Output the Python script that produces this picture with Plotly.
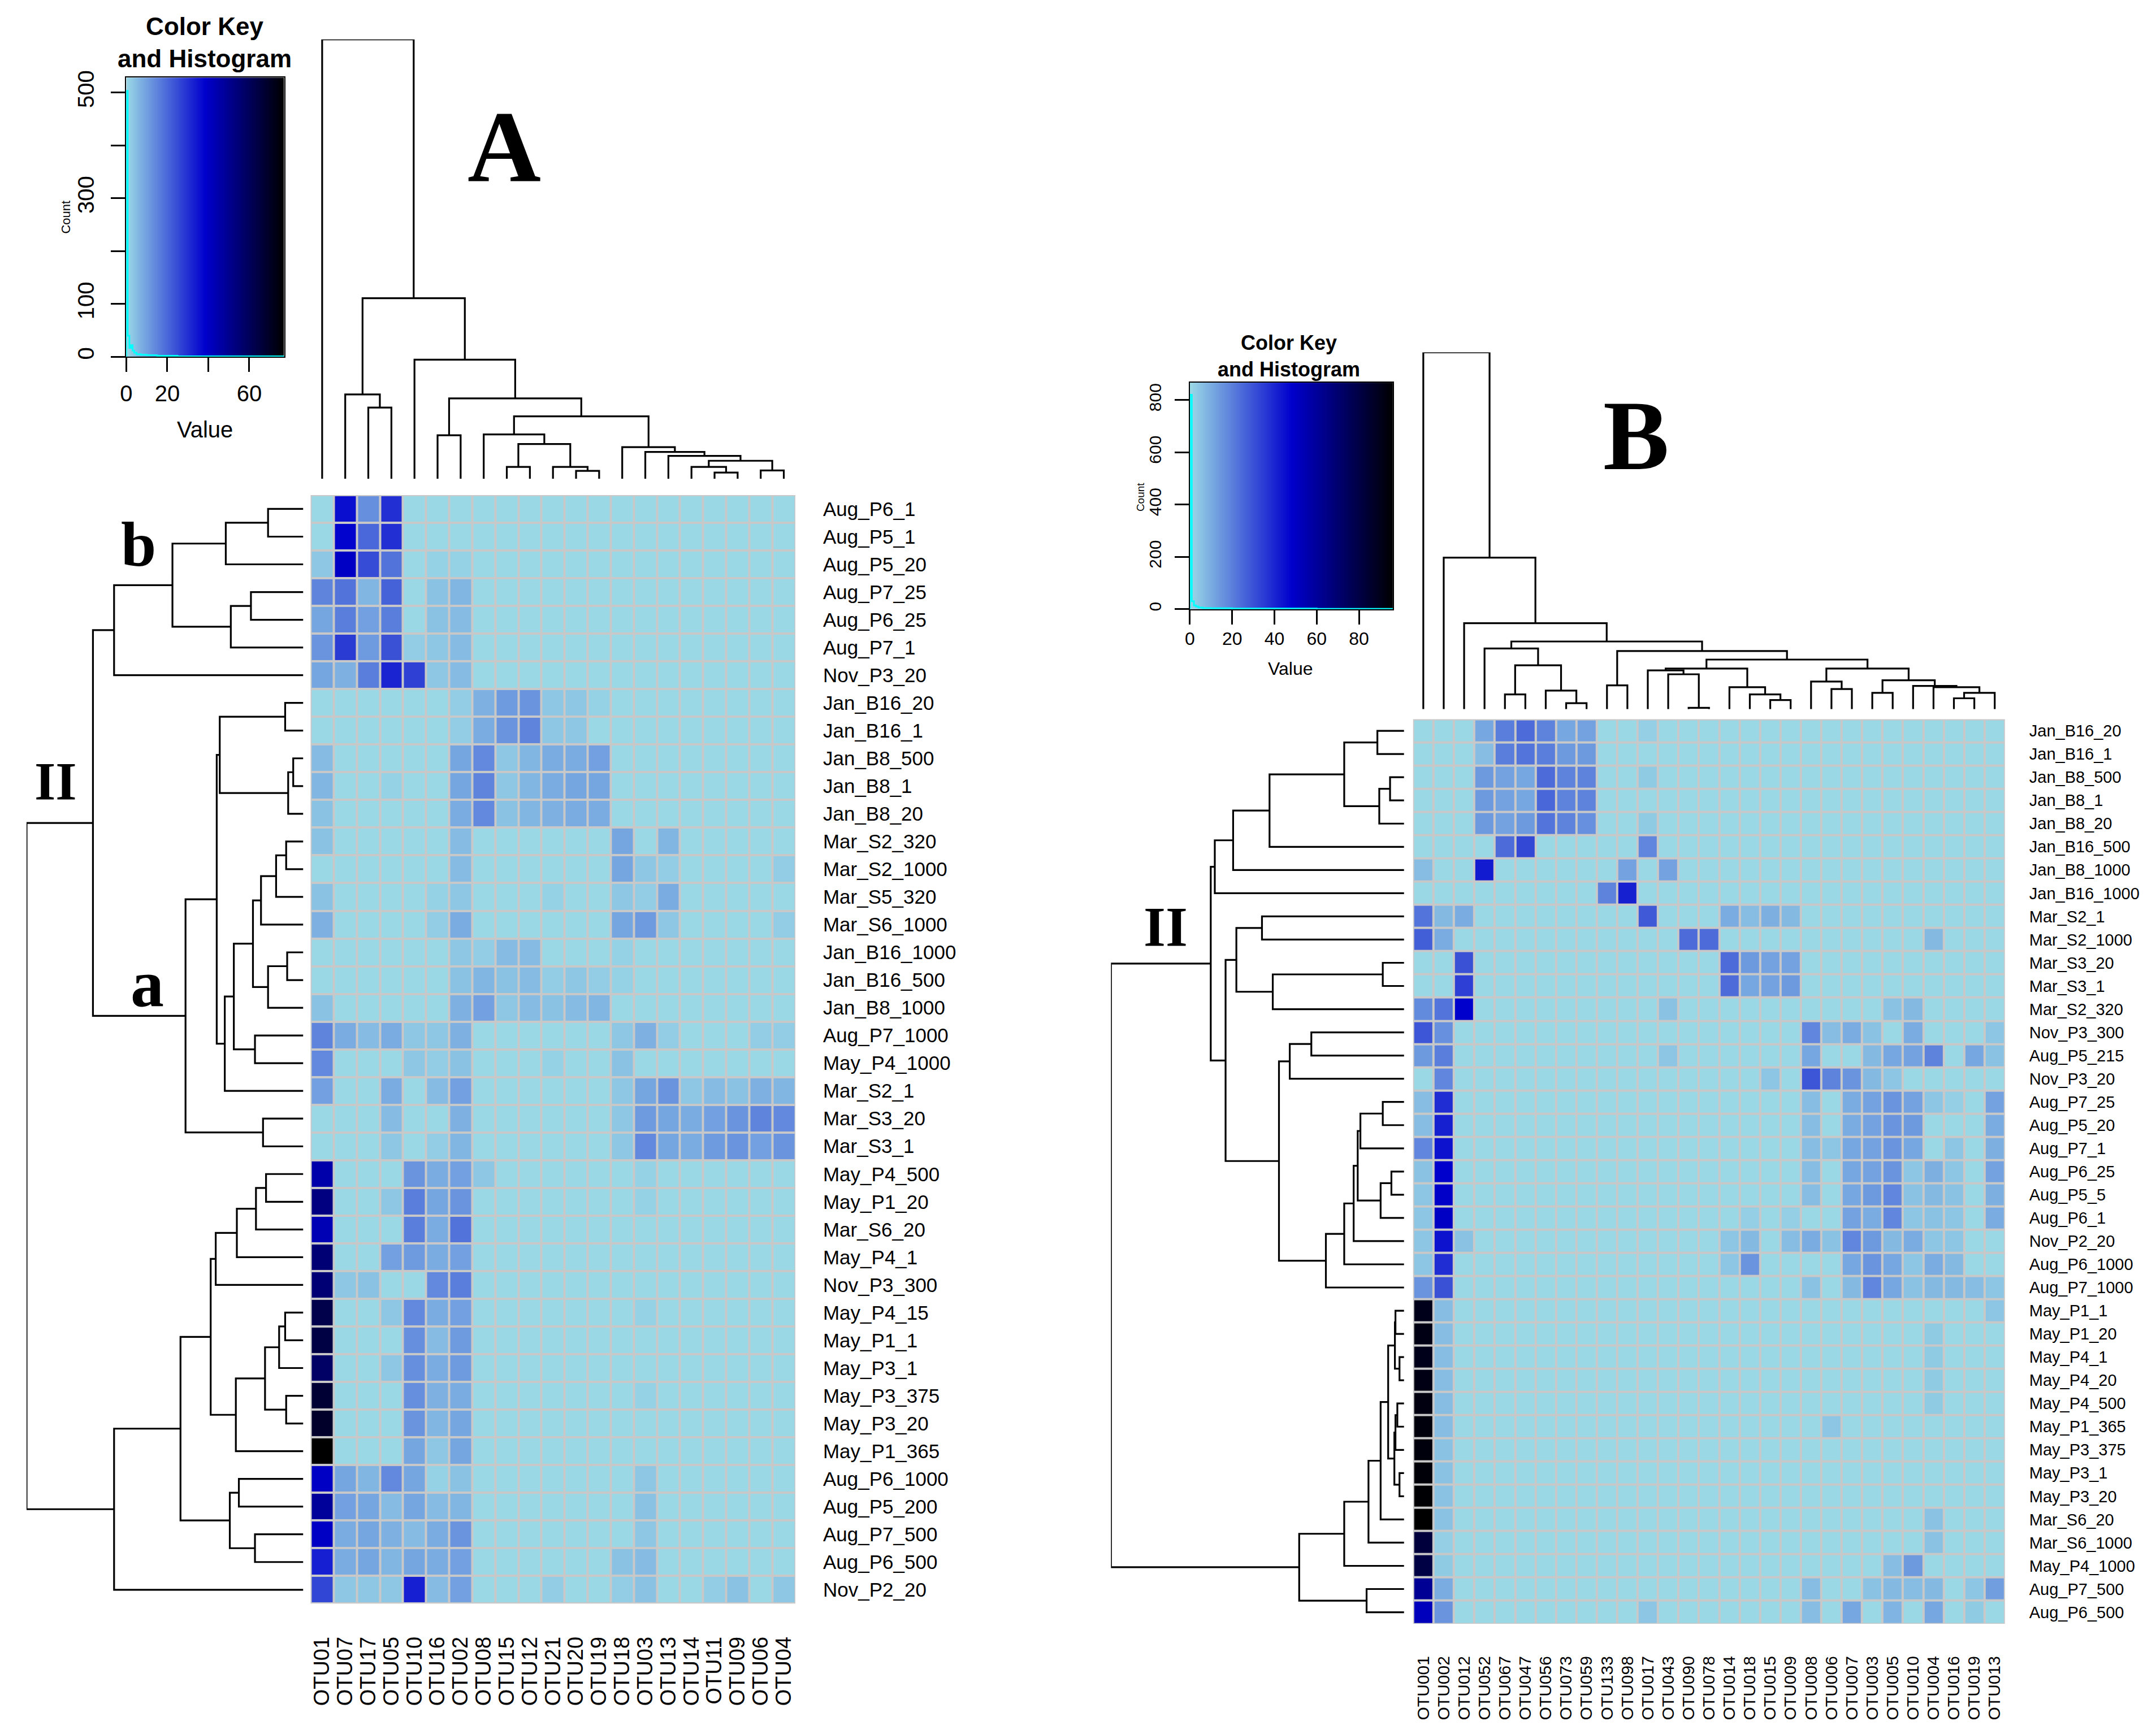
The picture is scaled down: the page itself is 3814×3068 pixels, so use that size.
import plotly.graph_objects as go

# page is 3814 x 3068; the html body keeps its 8 px margin, so the figure is a bit smaller
PAGE_W, PAGE_H, OFF = 3814, 3068, 8
W, H = PAGE_W - 2 * OFF, PAGE_H - 2 * OFF
SANS = "Liberation Sans, Arial, sans-serif"
SERIF = "Liberation Serif, Times New Roman, serif"

# ---------------- panel A data ----------------
A_cols = ["OTU01", "OTU07", "OTU17", "OTU05", "OTU10", "OTU16", "OTU02", "OTU08", "OTU15", "OTU12", "OTU21",
          "OTU20", "OTU19", "OTU18", "OTU03", "OTU13", "OTU14", "OTU11", "OTU09", "OTU06", "OTU04"]
A_rows = ["Aug_P6_1", "Aug_P5_1", "Aug_P5_20", "Aug_P7_25", "Aug_P6_25", "Aug_P7_1", "Nov_P3_20", "Jan_B16_20",
          "Jan_B16_1", "Jan_B8_500", "Jan_B8_1", "Jan_B8_20", "Mar_S2_320", "Mar_S2_1000", "Mar_S5_320",
          "Mar_S6_1000", "Jan_B16_1000", "Jan_B16_500", "Jan_B8_1000", "Aug_P7_1000", "May_P4_1000", "Mar_S2_1",
          "Mar_S3_20", "Mar_S3_1", "May_P4_500", "May_P1_20", "Mar_S6_20", "May_P4_1", "Nov_P3_300", "May_P4_15",
          "May_P1_1", "May_P3_1", "May_P3_375", "May_P3_20", "May_P1_365", "Aug_P6_1000", "Aug_P5_200",
          "Aug_P7_500", "Aug_P6_500", "Nov_P2_20"]
A_values = [
    [0, 36, 13, 30, 0, 0, 0, 0, 0, 0, 0, 0, 0, 0, 0, 0, 0, 0, 0, 0, 0],
    [0, 38, 20, 30, 0, 0, 0, 0, 0, 0, 0, 0, 0, 0, 0, 0, 0, 0, 0, 0, 0],
    [3, 40, 25, 18, 0, 1, 1, 0, 0, 0, 0, 0, 0, 0, 0, 0, 0, 0, 0, 0, 0],
    [15, 18, 6, 21, 0, 4, 6, 0, 0, 0, 0, 0, 0, 0, 0, 0, 0, 0, 0, 0, 0],
    [9, 16, 10, 16, 0, 4, 5, 0, 0, 0, 0, 0, 0, 0, 0, 0, 0, 0, 0, 0, 0],
    [12, 28, 11, 24, 2, 3, 5, 0, 0, 0, 0, 0, 0, 0, 0, 0, 0, 0, 0, 0, 0],
    [9, 7, 16, 32, 27, 3, 5, 0, 0, 0, 0, 0, 0, 0, 0, 0, 0, 0, 0, 0, 0],
    [0, 0, 0, 0, 0, 0, 2, 7, 11, 12, 3, 3, 1, 0, 0, 0, 0, 0, 0, 0, 0],
    [0, 0, 0, 0, 0, 0, 2, 8, 12, 15, 3, 3, 0, 0, 0, 0, 0, 0, 0, 0, 0],
    [5, 0, 0, 0, 0, 0, 9, 14, 3, 6, 8, 8, 10, 0, 0, 0, 0, 0, 0, 0, 0],
    [6, 0, 0, 1, 0, 0, 9, 15, 3, 6, 8, 9, 9, 0, 0, 0, 0, 0, 0, 0, 0],
    [4, 0, 0, 0, 0, 0, 8, 14, 4, 6, 7, 8, 8, 0, 0, 0, 0, 0, 0, 0, 0],
    [4, 0, 0, 0, 0, 0, 5, 0, 0, 0, 0, 0, 0, 9, 0, 6, 0, 0, 0, 0, 0],
    [0, 0, 0, 0, 0, 0, 5, 0, 0, 0, 0, 0, 0, 9, 3, 2, 0, 0, 0, 0, 2],
    [4, 0, 0, 0, 0, 1, 3, 0, 0, 0, 1, 0, 0, 3, 2, 8, 0, 0, 0, 0, 0],
    [7, 0, 0, 0, 0, 2, 8, 0, 0, 0, 0, 0, 0, 9, 11, 3, 0, 0, 0, 0, 2],
    [0, 0, 0, 0, 0, 0, 3, 2, 5, 5, 0, 0, 0, 1, 0, 0, 0, 0, 0, 0, 0],
    [0, 0, 0, 0, 0, 0, 4, 6, 4, 5, 2, 3, 2, 1, 0, 0, 0, 0, 0, 0, 0],
    [4, 0, 0, 0, 0, 0, 7, 10, 3, 5, 4, 5, 6, 0, 0, 0, 0, 0, 0, 0, 0],
    [15, 8, 5, 8, 3, 3, 7, 0, 0, 0, 0, 0, 0, 3, 7, 2, 0, 0, 0, 2, 2],
    [14, 0, 0, 0, 3, 2, 4, 0, 0, 0, 1, 0, 0, 4, 0, 0, 0, 0, 0, 0, 0],
    [10, 0, 0, 8, 0, 5, 10, 0, 0, 0, 0, 0, 0, 3, 9, 12, 3, 5, 4, 7, 6],
    [0, 0, 0, 5, 0, 0, 7, 0, 0, 0, 0, 0, 0, 3, 11, 9, 8, 10, 12, 15, 14],
    [0, 0, 0, 3, 0, 2, 6, 0, 0, 0, 0, 0, 0, 3, 14, 9, 8, 11, 12, 10, 12],
    [45, 0, 0, 0, 12, 8, 10, 3, 0, 0, 0, 0, 0, 0, 1, 0, 0, 0, 0, 0, 0],
    [53, 0, 0, 3, 16, 9, 12, 0, 0, 0, 0, 0, 0, 0, 1, 0, 0, 0, 0, 0, 0],
    [43, 0, 0, 0, 16, 8, 18, 0, 0, 0, 0, 0, 0, 0, 0, 0, 0, 0, 0, 0, 0],
    [55, 0, 0, 10, 11, 8, 10, 0, 0, 0, 0, 0, 0, 0, 0, 0, 0, 0, 0, 0, 0],
    [55, 3, 4, 0, 0, 14, 16, 0, 0, 0, 0, 0, 0, 0, 0, 0, 0, 0, 0, 0, 0],
    [63, 0, 0, 3, 14, 8, 10, 0, 0, 0, 0, 0, 0, 0, 1, 0, 0, 0, 0, 0, 0],
    [64, 0, 0, 0, 13, 5, 11, 0, 0, 0, 0, 0, 0, 0, 0, 0, 0, 0, 0, 0, 0],
    [58, 0, 0, 3, 13, 8, 11, 0, 0, 0, 0, 0, 0, 0, 0, 0, 0, 0, 0, 0, 0],
    [67, 0, 0, 0, 13, 7, 8, 0, 0, 0, 0, 0, 0, 0, 1, 0, 0, 0, 0, 0, 0],
    [69, 0, 0, 0, 12, 6, 9, 0, 0, 0, 0, 0, 0, 0, 0, 0, 0, 0, 0, 0, 0],
    [77, 0, 0, 0, 9, 3, 9, 0, 0, 0, 0, 0, 0, 0, 0, 0, 0, 0, 0, 0, 0],
    [40, 9, 6, 14, 9, 1, 4, 0, 0, 0, 0, 0, 0, 0, 3, 0, 0, 0, 0, 0, 0],
    [48, 10, 9, 5, 9, 5, 6, 0, 0, 0, 0, 0, 0, 0, 4, 0, 0, 0, 0, 0, 0],
    [40, 8, 9, 7, 5, 8, 12, 0, 0, 0, 0, 0, 0, 0, 3, 0, 0, 0, 0, 0, 0],
    [33, 8, 9, 6, 9, 8, 10, 0, 0, 0, 0, 0, 0, 4, 5, 0, 0, 0, 0, 0, 0],
    [26, 3, 3, 3, 33, 5, 10, 0, 0, 0, 2, 0, 0, 2, 4, 0, 0, 2, 4, 0, 3],
]
A_max = 77

# dendrograms: a node is a leaf index or [left, right, merge height]
A_col_tree = [0, [[1, [2, 3, 16.2], 19.2],
                  [4, [[5, 6, 9.9],
                       [[7, [[8, 9, 2.7], [10, [11, 12, 1.8], 2.7], 7.9], 10.1],
                        [13, [14, [15, [[16, [17, 18, 1.4], 2.7], [19, 20, 1.9], 4.1], 5.2], 6.1], 7.2],
                        14.2], 18.3], 27.1], 41.1], 100]

A_row_tree = [
    [[[[[0, 1, 175], 2, 385], [[3, 4, 260], 5, 360], 650], 6, 940],
     [[[[7, 8, 90], [[9, 10, 50], 11, 75], 415],
       [[[[[[12, 13, 85], 14, 135], 15, 210], [[16, 17, 80], 18, 175], 250], [19, 20, 240], 345], 21, 390],
       430],
      [22, 23, 200], 585],
     1045],
    [[[[[[[24, 25, 185], 26, 235], 27, 330], 28, 435],
        [[[[29, 30, 90], 31, 120], [32, 33, 85], 190], 34, 335], 460],
       [[35, 36, 320], [37, 38, 240], 365], 610],
      39, 940],
    1375]

A_hist_x = [0, 0, 0.7, 1.5, 2.3, 3.1, 3.9, 5.0, 7.0, 10, 15, 25, 40, 60, 77]
A_hist_n = [0, 503, 40, 17, 22, 12, 8, 5, 4, 3, 2, 1, 1, 1, 1]

# ---------------- panel B data ----------------
B_cols = ["OTU001", "OTU002", "OTU012", "OTU052", "OTU067", "OTU047", "OTU056", "OTU073", "OTU059", "OTU133",
          "OTU098", "OTU017", "OTU043", "OTU090", "OTU078", "OTU014", "OTU018", "OTU015", "OTU009", "OTU008",
          "OTU006", "OTU007", "OTU003", "OTU005", "OTU010", "OTU004", "OTU016", "OTU019", "OTU013"]
B_rows = ["Jan_B16_20", "Jan_B16_1", "Jan_B8_500", "Jan_B8_1", "Jan_B8_20", "Jan_B16_500", "Jan_B8_1000",
          "Jan_B16_1000", "Mar_S2_1", "Mar_S2_1000", "Mar_S3_20", "Mar_S3_1", "Mar_S2_320", "Nov_P3_300",
          "Aug_P5_215", "Nov_P3_20", "Aug_P7_25", "Aug_P5_20", "Aug_P7_1", "Aug_P6_25", "Aug_P5_5", "Aug_P6_1",
          "Nov_P2_20", "Aug_P6_1000", "Aug_P7_1000", "May_P1_1", "May_P1_20", "May_P4_1", "May_P4_20",
          "May_P4_500", "May_P1_365", "May_P3_375", "May_P3_1", "May_P3_20", "Mar_S6_20", "Mar_S6_1000",
          "May_P4_1000", "Aug_P7_500", "Aug_P6_500"]
B_values = [
    [0, 0, 0, 11, 20, 24, 19, 11, 12, 0, 0, 2, 0, 0, 0, 0, 0, 0, 0, 0, 0, 0, 0, 0, 0, 0, 0, 0, 0],
    [0, 0, 0, 6, 20, 22, 20, 14, 14, 0, 0, 0, 0, 0, 0, 0, 0, 0, 0, 0, 0, 0, 0, 0, 0, 0, 0, 0, 0],
    [0, 0, 0, 14, 12, 11, 24, 19, 19, 0, 0, 3, 0, 0, 0, 0, 0, 0, 0, 0, 0, 0, 0, 0, 0, 0, 0, 0, 0],
    [0, 0, 0, 14, 12, 11, 25, 19, 19, 0, 0, 0, 0, 0, 0, 0, 0, 0, 0, 0, 0, 0, 0, 0, 0, 0, 0, 0, 0],
    [0, 0, 0, 14, 12, 14, 22, 19, 16, 0, 0, 3, 0, 0, 0, 0, 0, 0, 0, 0, 0, 0, 0, 0, 0, 0, 0, 0, 0],
    [0, 0, 0, 0, 24, 32, 0, 0, 0, 0, 0, 18, 0, 0, 0, 0, 0, 0, 0, 0, 0, 0, 0, 0, 0, 0, 0, 0, 0],
    [6, 0, 0, 42, 0, 0, 0, 0, 0, 0, 12, 0, 12, 0, 0, 0, 0, 0, 0, 0, 0, 0, 0, 0, 0, 0, 0, 0, 0],
    [0, 0, 0, 0, 0, 0, 0, 0, 0, 19, 41, 0, 0, 0, 0, 0, 0, 0, 0, 0, 0, 0, 0, 0, 0, 0, 0, 0, 0],
    [22, 7, 10, 0, 0, 0, 0, 0, 0, 0, 0, 28, 0, 0, 0, 10, 6, 9, 7, 0, 0, 0, 0, 0, 0, 0, 0, 0, 0],
    [27, 10, 0, 0, 0, 0, 0, 0, 0, 0, 0, 0, 0, 24, 24, 0, 0, 0, 0, 0, 0, 0, 0, 0, 0, 7, 0, 0, 0],
    [0, 0, 30, 0, 0, 0, 0, 0, 0, 0, 0, 0, 0, 0, 0, 24, 14, 12, 12, 0, 0, 0, 0, 0, 0, 0, 0, 0, 0],
    [0, 0, 34, 0, 0, 0, 0, 0, 0, 0, 0, 0, 0, 0, 0, 24, 11, 12, 14, 0, 0, 0, 0, 0, 0, 0, 0, 0, 0],
    [17, 22, 48, 0, 0, 0, 0, 0, 0, 0, 0, 0, 5, 0, 0, 0, 0, 0, 0, 0, 0, 0, 0, 5, 7, 0, 0, 0, 0],
    [29, 16, 0, 0, 0, 0, 0, 0, 0, 0, 0, 0, 0, 0, 0, 0, 0, 0, 0, 18, 6, 10, 5, 0, 10, 0, 0, 0, 4],
    [14, 20, 0, 0, 0, 0, 0, 0, 0, 0, 0, 0, 4, 0, 0, 0, 0, 0, 0, 11, 0, 0, 7, 11, 12, 19, 0, 11, 5],
    [0, 18, 0, 0, 0, 0, 0, 0, 0, 0, 0, 0, 0, 0, 0, 0, 0, 4, 0, 29, 19, 15, 7, 4, 0, 0, 0, 0, 0],
    [6, 38, 0, 0, 0, 0, 0, 0, 0, 0, 0, 0, 0, 0, 0, 0, 0, 0, 0, 6, 0, 10, 12, 15, 12, 4, 2, 0, 12],
    [6, 41, 0, 0, 0, 0, 0, 0, 0, 0, 0, 0, 0, 0, 0, 0, 0, 0, 0, 6, 0, 10, 12, 15, 14, 0, 0, 0, 10],
    [18, 44, 0, 0, 0, 0, 0, 0, 0, 0, 0, 0, 0, 0, 0, 0, 0, 0, 0, 6, 4, 11, 12, 15, 11, 0, 4, 0, 9],
    [5, 48, 0, 0, 0, 0, 0, 0, 0, 0, 0, 0, 0, 0, 0, 0, 0, 0, 0, 6, 0, 11, 12, 15, 4, 9, 4, 0, 12],
    [4, 49, 0, 0, 0, 0, 0, 0, 0, 0, 0, 0, 0, 0, 0, 0, 0, 0, 0, 6, 0, 11, 14, 18, 5, 7, 5, 0, 9],
    [4, 50, 0, 0, 0, 0, 0, 0, 0, 0, 0, 0, 0, 0, 0, 0, 2, 0, 2, 0, 0, 12, 10, 18, 4, 5, 4, 0, 10],
    [4, 44, 5, 0, 0, 0, 0, 0, 0, 0, 0, 0, 0, 0, 0, 4, 7, 0, 6, 10, 5, 18, 14, 7, 10, 4, 4, 0, 0],
    [4, 38, 0, 0, 0, 0, 0, 0, 0, 0, 0, 0, 0, 0, 0, 4, 15, 0, 0, 0, 0, 11, 15, 11, 4, 10, 7, 0, 0],
    [15, 30, 0, 0, 0, 0, 0, 0, 0, 0, 0, 0, 0, 0, 0, 0, 0, 0, 0, 5, 0, 7, 18, 11, 5, 7, 7, 6, 4],
    [90, 6, 0, 0, 0, 0, 0, 0, 0, 0, 0, 0, 0, 0, 0, 0, 0, 0, 0, 0, 0, 0, 0, 0, 0, 0, 0, 0, 4],
    [91, 6, 0, 0, 0, 0, 0, 0, 0, 0, 0, 0, 0, 0, 0, 0, 0, 0, 0, 0, 0, 0, 0, 0, 0, 3, 0, 0, 0],
    [90, 6, 0, 0, 0, 0, 0, 0, 0, 0, 0, 0, 0, 0, 0, 0, 0, 0, 0, 0, 0, 0, 0, 0, 0, 3, 0, 0, 0],
    [91, 6, 0, 0, 0, 0, 0, 0, 0, 0, 0, 0, 0, 0, 0, 0, 0, 0, 0, 0, 0, 0, 0, 0, 0, 3, 0, 0, 0],
    [92, 6, 0, 0, 0, 0, 0, 0, 0, 0, 0, 0, 0, 0, 0, 0, 0, 0, 0, 0, 0, 0, 0, 0, 0, 3, 0, 0, 0],
    [93, 6, 0, 0, 0, 0, 0, 0, 0, 0, 0, 0, 0, 0, 0, 0, 0, 0, 0, 0, 4, 0, 0, 0, 0, 0, 0, 0, 0],
    [93, 5, 0, 0, 0, 0, 0, 0, 0, 0, 0, 0, 0, 0, 0, 0, 0, 0, 0, 0, 0, 0, 0, 0, 0, 0, 0, 0, 0],
    [94, 5, 0, 0, 0, 0, 0, 0, 0, 0, 0, 0, 0, 0, 0, 0, 0, 0, 0, 0, 0, 0, 0, 0, 0, 0, 0, 0, 0],
    [95, 5, 0, 0, 0, 0, 0, 0, 0, 0, 0, 0, 0, 0, 0, 0, 0, 0, 0, 0, 0, 0, 0, 0, 0, 0, 0, 0, 0],
    [96, 5, 0, 0, 0, 0, 0, 0, 0, 0, 0, 0, 0, 0, 0, 0, 0, 0, 0, 0, 0, 0, 0, 0, 0, 5, 0, 0, 0],
    [82, 2, 0, 0, 0, 0, 0, 0, 0, 0, 0, 0, 0, 0, 0, 0, 0, 0, 0, 0, 0, 0, 0, 0, 0, 5, 0, 0, 0],
    [80, 3, 0, 0, 0, 0, 0, 0, 0, 0, 0, 0, 0, 0, 0, 0, 0, 0, 0, 0, 0, 0, 0, 6, 14, 0, 0, 0, 0],
    [61, 10, 0, 0, 0, 0, 0, 0, 0, 0, 0, 0, 0, 0, 0, 0, 0, 0, 0, 6, 0, 0, 5, 7, 6, 7, 0, 4, 13],
    [52, 15, 0, 0, 0, 0, 0, 0, 0, 0, 0, 4, 0, 0, 0, 0, 0, 0, 0, 6, 0, 11, 0, 8, 0, 11, 0, 3, 0],
]
B_max = 96

B_col_tree = [0, [1, [2, [[3, [[4, 5, 57], [6, [7, 8, 23], 72], 170], 235],
                          [[9, 10, 92],
                           [[[11, [12, [13, 14, 5], 135], 150], [15, [16, [17, 18, 35], 57], 85], 157],
                            [[19, [20, 21, 78], 107],
                             [[22, 23, 63], [24, [25, [[26, 27, 42], 28, 63], 85], 90], 112], 157],
                            192], 225], 262], 333], 587], 1382]

B_row_tree = [
    [[[[[[0, 1, 99], [[2, 3, 52], 4, 92], 222], 5, 499], 6, 634], 7, 702],
     [[[8, 9, 527], [[10, 11, 79], 12, 487], 622],
      [[[13, 14, 344], 15, 424],
       [[[[[[16, 17, 79], 18, 162], [[19, 20, 47], 21, 87], 172], 22, 187], 23, 222], 24, 290], 464],
      662],
     717],
    [[[[[[[25, 26, 32], [27, 28, 17], 34], [[[29, 30, 25], 31, 32], [32, 33, 17], 36], 59], 34, 87], 35, 132],
      36, 222],
     [37, 38, 139], 389],
    1087]

B_hist_x = [0, 0, 0.9, 1.9, 2.9, 4, 6, 10, 20, 40, 60, 80, 96]
B_hist_n = [0, 820, 30, 14, 10, 6, 4, 3, 2, 2, 1, 1, 1]

colorscale = [[0, "#9ad8e6"], [0.5, "#0000cd"], [1, "#000000"]]


def xdom(left, right):
    return [(left - OFF) / W, (right - OFF) / W]


def ydom(top, bottom):
    return [1 - (bottom - OFF) / H, 1 - (top - OFF) / H]


def tree_lines(node):
    # walk the merge tree, return leaf-order position, height and the elbow paths
    if isinstance(node, int):
        return node, 0, [], []
    left, right, h = node
    pl, hl, xl, yl = tree_lines(left)
    pr, hr, xr, yr = tree_lines(right)
    xs = xl + xr + [pl, pl, pr, pr, None]
    hs = yl + yr + [hl, h, h, hr, None]
    return (pl + pr) / 2, h, xs, hs


def dendro_trace(tree, axis_x, axis_y, rows=False):
    _, _, pos, hts = tree_lines(tree)
    if rows:
        pos, hts = hts, pos
    return go.Scatter(x=pos, y=hts, mode="lines", line=dict(color="black", width=3.2),
                      xaxis=axis_x, yaxis=axis_y, hoverinfo="skip")


fig = go.Figure()

# heatmaps
fig.add_trace(go.Heatmap(z=A_values, x=list(range(len(A_cols))), y=list(range(len(A_rows))),
                         colorscale=colorscale, zmin=0, zmax=A_max, showscale=False,
                         xgap=4, ygap=4, xaxis="x", yaxis="y"))
fig.add_trace(go.Heatmap(z=B_values, x=list(range(len(B_cols))), y=list(range(len(B_rows))),
                         colorscale=colorscale, zmin=0, zmax=B_max, showscale=False,
                         xgap=4, ygap=4, xaxis="x5", yaxis="y5"))

# dendrograms
fig.add_trace(dendro_trace(A_col_tree, "x2", "y2"))
fig.add_trace(dendro_trace(A_row_tree, "x3", "y3", rows=True))
fig.add_trace(dendro_trace(B_col_tree, "x6", "y6"))
fig.add_trace(dendro_trace(B_row_tree, "x7", "y7", rows=True))

# colour keys with histogram
fig.add_trace(go.Heatmap(z=[[0, A_max], [0, A_max]], x=[0, A_max], y=[0, 528], zsmooth="best",
                         colorscale=colorscale, zmin=0, zmax=A_max, showscale=False,
                         xaxis="x4", yaxis="y4", hoverinfo="skip"))
fig.add_trace(go.Scatter(x=A_hist_x, y=A_hist_n, mode="lines", line=dict(color="cyan", width=3, shape="hv"),
                         xaxis="x4", yaxis="y4"))
fig.add_trace(go.Heatmap(z=[[0, B_max], [0, B_max]], x=[0, B_max], y=[0, 866], zsmooth="best",
                         colorscale=colorscale, zmin=0, zmax=B_max, showscale=False,
                         xaxis="x8", yaxis="y8", hoverinfo="skip"))
fig.add_trace(go.Scatter(x=B_hist_x, y=B_hist_n, mode="lines", line=dict(color="cyan", width=3, shape="hv"),
                         xaxis="x8", yaxis="y8"))

hidden = dict(visible=False, showgrid=False, zeroline=False)


def label_axis(dom, rng, vals, text, size, standoff, **kw):
    return dict(domain=dom, range=rng, tickvals=vals, ticktext=text, ticks="", showgrid=False,
                zeroline=False, showline=False, ticklabelstandoff=standoff,
                tickfont=dict(family=SANS, size=size, color="black"), **kw)


def key_axis(dom, rng, vals, text, size, standoff, **kw):
    return dict(domain=dom, range=rng, tickvals=vals, ticktext=text, ticks="outside", ticklen=25,
                tickwidth=3, tickcolor="black", showline=True, mirror=True, linecolor="black", linewidth=2,
                showgrid=False, zeroline=False, ticklabelstandoff=standoff,
                tickfont=dict(family=SANS, size=size, color="black"), **kw)


A_x, A_y = xdom(540, 1400), ydom(868, 2841)
B_x, B_y = xdom(2496, 3546), ydom(1267, 2877)

fig.update_layout(
    width=W, height=H, margin=dict(l=0, r=0, t=0, b=0),
    paper_bgcolor="white", plot_bgcolor="white", showlegend=False,
    xaxis=label_axis(A_x, [-0.5, len(A_cols) - 0.5], list(range(len(A_cols))), A_cols, 38, 50,
                     tickangle=-90, anchor="y"),
    yaxis=label_axis(A_y, [len(A_rows) - 0.5, -0.5], list(range(len(A_rows))), A_rows, 35, 48,
                     side="right", anchor="x"),
    xaxis2=dict(domain=A_x, range=[-0.5, len(A_cols) - 0.5], anchor="y2", **hidden),
    yaxis2=dict(domain=ydom(57, 839), range=[0, 100], anchor="x2", **hidden),
    xaxis3=dict(domain=xdom(36, 527), range=[1375, 0], anchor="y3", **hidden),
    yaxis3=dict(domain=A_y, range=[len(A_rows) - 0.5, -0.5], anchor="x3", **hidden),
    xaxis4=key_axis(xdom(213, 493), [0, A_max], [0, 20, 40, 60], ["0", "20", "", "60"], 40, 4, anchor="y4"),
    yaxis4=key_axis(ydom(125, 622), [0, 528], [0, 100, 200, 300, 400, 500],
                    ["0", "100", "", "300", "", "500"], 40, 14, tickangle=-90, anchor="x4"),
    xaxis5=label_axis(B_x, [-0.5, len(B_cols) - 0.5], list(range(len(B_cols))), B_cols, 30, 50,
                      tickangle=-90, anchor="y5"),
    yaxis5=label_axis(B_y, [len(B_rows) - 0.5, -0.5], list(range(len(B_rows))), B_rows, 29, 42,
                      side="right", anchor="x5"),
    xaxis6=dict(domain=B_x, range=[-0.5, len(B_cols) - 0.5], anchor="y6", **hidden),
    yaxis6=dict(domain=ydom(614, 1249), range=[0, 1382], anchor="x6", **hidden),
    xaxis7=dict(domain=xdom(1960, 2480), range=[1087, 0], anchor="y7", **hidden),
    yaxis7=dict(domain=B_y, range=[len(B_rows) - 0.5, -0.5], anchor="x7", **hidden),
    xaxis8=key_axis(xdom(2100, 2460), [0, B_max], [0, 20, 40, 60, 80], ["0", "20", "40", "60", "80"], 32, -2,
                    anchor="y8"),
    yaxis8=key_axis(ydom(668, 1071), [0, 866], [0, 200, 400, 600, 800], ["0", "200", "400", "600", "800"],
                    30, 12, tickangle=-90, anchor="x8"),
)

# grey grid behind the heatmap cells
for xd, yd in [(A_x, A_y), (B_x, B_y)]:
    fig.add_shape(type="rect", xref="paper", yref="paper", x0=xd[0], x1=xd[1], y0=yd[0], y1=yd[1],
                  fillcolor="#c8c8c8", line=dict(width=0), layer="below")


def note(text, px, py, size, family=SANS, angle=0):
    fig.add_annotation(text=text, x=(px - OFF) / W, y=1 - (py - OFF) / H, xref="paper", yref="paper",
                       showarrow=False, xanchor="center", yanchor="middle", textangle=angle,
                       font=dict(family=family, size=size, color="black"))


note("<b>Color Key<br>and Histogram</b>", 352, 62, 44)
note("Value", 352, 751, 40)
note("Count", 106, 373, 22, angle=-90)
note("<b>Color Key<br>and Histogram</b>", 2276, 621, 36)
note("Value", 2278, 1177, 32)
note("Count", 2013, 872, 19, angle=-90)

note("<b>A</b>", 884, 248, 180, SERIF)
note("<b>B</b>", 2892, 762, 175, SERIF)
note("<b>II</b>", 88, 1378, 96, SERIF)
note("<b>b</b>", 235, 956, 112, SERIF)
note("<b>a</b>", 250, 1738, 118, SERIF)
note("<b>II</b>", 2057, 1636, 100, SERIF)

fig.write_html("out.html")
